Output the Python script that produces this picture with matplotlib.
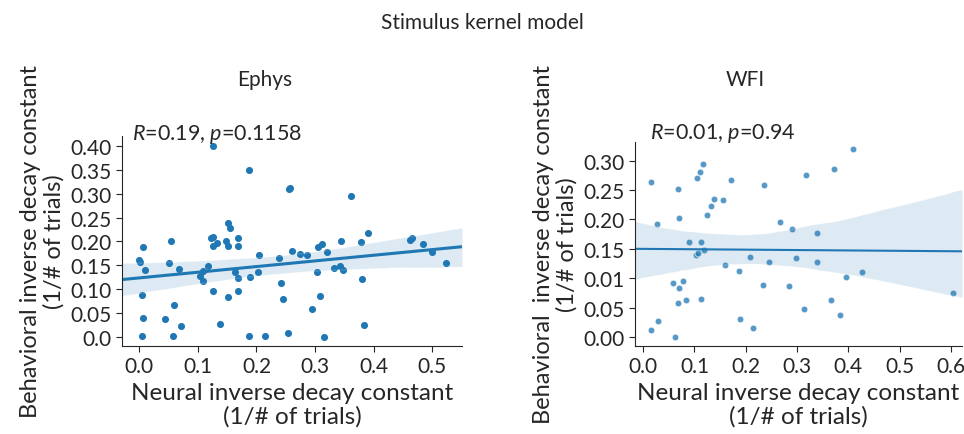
import numpy as np
import matplotlib
matplotlib.use("Agg")
import matplotlib.pyplot as plt
import seaborn as sns

# Ephys: neural vs behavioral inverse decay constant
ephys_x = [0.125, 0.188, 0.256, 0.362, 0.006, 0.054, 0.122, 0.125, 0.152, 0.154,
           0.148, 0.168, 0.132, 0.125, 0.151, 0.168, 0.312, 0.344, 0.379, 0.391,
           0.462, 0.466, 0.484, 0.000, 0.002, 0.009, 0.005, 0.007, 0.004, 0.051,
           0.068, 0.059, 0.044, 0.071, 0.058, 0.118, 0.108, 0.104, 0.108, 0.125,
           0.151, 0.168, 0.168, 0.164, 0.138, 0.189, 0.205, 0.202, 0.188, 0.214,
           0.238, 0.260, 0.275, 0.287, 0.305, 0.242, 0.245, 0.295, 0.254, 0.303,
           0.309, 0.316, 0.321, 0.332, 0.343, 0.347, 0.381, 0.383, 0.499, 0.523,
           0.258]
ephys_y = [0.400, 0.350, 0.309, 0.295, 0.188, 0.201, 0.206, 0.210, 0.238, 0.228,
           0.200, 0.207, 0.196, 0.191, 0.190, 0.191, 0.194, 0.200, 0.198, 0.217,
           0.203, 0.207, 0.194, 0.161, 0.156, 0.140, 0.088, 0.040, 0.002, 0.154,
           0.142, 0.066, 0.036, 0.023, 0.001, 0.149, 0.137, 0.128, 0.116, 0.095,
           0.084, 0.095, 0.123, 0.135, 0.026, 0.126, 0.171, 0.135, 0.001, 0.001,
           0.166, 0.179, 0.174, 0.171, 0.189, 0.112, 0.080, 0.059, 0.007, 0.135,
           0.086, 0.000, 0.177, 0.145, 0.149, 0.140, 0.121, 0.024, 0.177, 0.155,
           0.311]

# WFI
wfi_x = [0.015, 0.027, 0.068, 0.070, 0.089, 0.112, 0.105, 0.111, 0.117, 0.125,
         0.132, 0.138, 0.156, 0.171, 0.236, 0.266, 0.291, 0.410, 0.373, 0.317,
         0.340, 0.103, 0.106, 0.119, 0.160, 0.186, 0.208, 0.245, 0.298, 0.059,
         0.078, 0.070, 0.083, 0.068, 0.112, 0.233, 0.285, 0.015, 0.029, 0.063,
         0.188, 0.215, 0.339, 0.313, 0.367, 0.383, 0.395, 0.427, 0.605]
wfi_y = [0.263, 0.192, 0.252, 0.203, 0.162, 0.162, 0.271, 0.281, 0.294, 0.208,
         0.222, 0.235, 0.233, 0.267, 0.259, 0.195, 0.183, 0.319, 0.286, 0.276,
         0.177, 0.140, 0.143, 0.148, 0.122, 0.113, 0.136, 0.128, 0.135, 0.092,
         0.095, 0.084, 0.064, 0.059, 0.065, 0.089, 0.087, 0.012, 0.027, 0.001,
         0.031, 0.015, 0.127, 0.048, 0.063, 0.037, 0.103, 0.111, 0.076]

ephys_yticks = [0.0, 0.05, 0.10, 0.15, 0.20, 0.25, 0.30, 0.35, 0.40]
ephys_yticklabels = ["0.0", "0.05", "0.10", "0.15", "0.20", "0.25", "0.30", "0.35", "0.40"]
wfi_yticks = [0.0, 0.05, 0.10, 0.15, 0.20, 0.25, 0.30]
wfi_yticklabels = ["0.00", "0.05", "0.01", "0.15", "0.20", "0.25", "0.30"]
ephys_xticks = [0.0, 0.1, 0.2, 0.3, 0.4, 0.5]
wfi_xticks = [0.0, 0.1, 0.2, 0.3, 0.4, 0.5, 0.6]

sns.set_style("ticks")
plt.rcParams["font.family"] = ["Lato", "DejaVu Sans"]
plt.rcParams["mathtext.fontset"] = "custom"
plt.rcParams["mathtext.rm"] = "Lato"
plt.rcParams["mathtext.it"] = "Lato:italic"

fig = plt.figure(figsize=(9.64, 4.35), dpi=100)
ax1 = fig.add_axes([0.1266, 0.203, 0.3527, 0.482])
ax2 = fig.add_axes([0.6587, 0.203, 0.3393, 0.4676])

blue = "#1f77b4"
xlab = "Neural inverse decay constant\n(1/# of trials)"

ax1.set_xlim(-0.0295, 0.551)
ax1.set_ylim(-0.019, 0.421)
sns.regplot(x=np.array(ephys_x), y=np.array(ephys_y), ax=ax1, truncate=False, seed=0,
            color=blue, scatter_kws={"s": 26, "alpha": 1, "linewidths": 0},
            line_kws={"lw": 2.2})
ax1.set_xticks(ephys_xticks)
ax1.set_yticks(ephys_yticks)
ax1.set_yticklabels(ephys_yticklabels)
ax1.set_xlabel(xlab, fontsize=17.5, linespacing=1.15)
ax1.set_ylabel("Behavioral inverse decay constant\n(1/# of trials)", fontsize=17,
               linespacing=1.15)
ax1.text(0.42, 1.272, "Ephys", transform=ax1.transAxes, fontsize=15, ha="center",
         va="center")
ax1.text(0.03, 0.957, r"$\it{R}$=0.19, $\it{p}$=0.1158", transform=ax1.transAxes,
         fontsize=15.5, va="bottom")

ax2.set_xlim(-0.016, 0.622)
ax2.set_ylim(-0.0143, 0.331)
sns.regplot(x=np.array(wfi_x), y=np.array(wfi_y), ax=ax2, truncate=False, seed=0,
            color=blue, scatter_kws={"s": 24, "alpha": 0.75, "edgecolor": "white",
                                     "linewidths": 0.8},
            line_kws={"lw": 1.5})
ax2.set_xticks(wfi_xticks)
ax2.set_yticks(wfi_yticks)
ax2.set_yticklabels(wfi_yticklabels)
ax2.set_xlabel(xlab, fontsize=17.5, linespacing=1.15)
ax2.set_ylabel("Behavioral  inverse decay constant\n(1/# of trials)", fontsize=17,
               linespacing=1.15)
ax2.text(0.336, 1.311, "WFI", transform=ax2.transAxes, fontsize=15, ha="center",
         va="center")
ax2.text(0.046, 0.99, r"$\it{R}$=0.01, $\it{p}$=0.94", transform=ax2.transAxes,
         fontsize=15.5, va="bottom")

for ax in (ax1, ax2):
    ax.tick_params(labelsize=15, length=4)
    sns.despine(ax=ax)

fig.suptitle("Stimulus kernel model", fontsize=15, y=0.97)
fig.savefig("out.png", dpi=100)
